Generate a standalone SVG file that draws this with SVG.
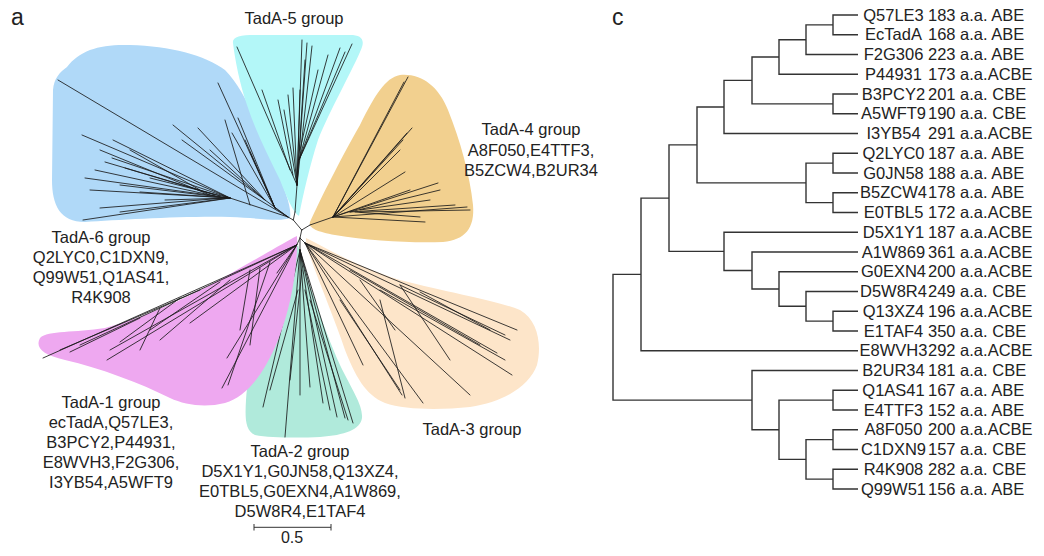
<svg xmlns="http://www.w3.org/2000/svg" width="1044" height="556" viewBox="0 0 1044 556">
<style>
text{font-family:"Liberation Sans",Arial,sans-serif;fill:#222;}
.lbl{font-size:16.5px;text-anchor:middle;}
.leaf{font-size:16.5px;}
.id{text-anchor:middle;}
.panel{font-size:23px;}
.br{fill:none;stroke:#1a1a1a;stroke-width:0.85;stroke-linecap:round;}
.tree{fill:none;stroke:#333;stroke-width:1.4;}
</style>
<rect width="1044" height="556" fill="#fff"/>
<text class="panel" x="11" y="25">a</text>
<text class="panel" x="612" y="25">c</text>

<g id="group-tada6">
<path fill="#b0d9f8" d="M67,67 C80,50 100,44 130,45 C170,46 205,55 225,70 C245,90 260,130 275,165 C285,190 292,208 290,218 C280,222 260,218 230,217 C180,216 120,220 85,222 C60,222 52,205 52,180 L53,90 C54,78 60,72 67,67 Z"/>
<path class="br" d="M288,217 L58,80 M288,217 L275,208 L218,83 M275,208 L238,118 M275,208 L232,133 M275,208 L245,140 M275,208 L250,152 M288,217 L265,200 L198,128 M265,200 L173,125 M265,200 L182,140 M265,200 L210,150 M288,217 L230,198 L82,135 M230,198 L85,178 M230,198 L83,220 M230,198 L113,140 M230,198 L112,158 M210,195 L100,150 M215,196 L95,170 M220,197 L120,185 M225,198 L100,208 M200,190 L130,150 M250,205 L225,120 M230,198 L90,190 M230,198 L140,192 M230,198 L165,200 M230,198 L120,212 M220,196 L105,162 M215,195 L125,168 M230,198 L150,178"/>
<text class="lbl" x="101" y="243">TadA-6 group</text>
<text class="lbl" x="101" y="263">Q2LYC0,C1DXN9,</text>
<text class="lbl" x="101" y="283">Q99W51,Q1AS41,</text>
<text class="lbl" x="101" y="303">R4K908</text>
</g>

<g id="group-tada5">
<path fill="#b3f7f8" d="M233,43 C232,37 240,35 255,35 L350,35 C362,35 366,40 360,52 C350,75 330,110 318,140 C310,165 303,195 299,216 C293,212 288,200 280,180 C268,155 255,130 247,105 C240,85 235,60 233,43 Z"/>
<path class="br" d="M295,212 L297,185 L237,47 M297,185 L302,40 M297,185 L307,43 M297,185 L312,46 M299,160 L340,48 M299,160 L352,44 M299,160 L328,55 M297,185 L288,95 M297,185 L293,88 M297,185 L300,90 M290,170 L262,90 M293,175 L278,100 M297,185 L305,60 M299,160 L345,52 M297,185 L284,110 M300,150 L318,70"/>
<text class="lbl" x="294" y="24">TadA-5 group</text>
</g>

<g id="group-tada4">
<path fill="#f2d08f" d="M310,222 C320,200 340,160 360,125 C375,95 385,78 400,75 C420,73 438,85 448,110 C460,140 470,175 473,205 C475,228 465,240 443,242 C410,243 370,241 335,235 C318,232 308,228 310,222 Z"/>
<path class="br" d="M310,225 L333,217 L408,77 M333,217 L407,133 M333,217 L405,172 M333,217 L438,183 M333,217 L467,207 M333,217 L425,222 M333,217 L410,190 M333,217 L400,150 M360,210 L430,200 M350,212 L455,205 M333,217 L403,140 M333,217 L412,128 M350,212 L440,190 M355,212 L420,217 M360,212 L470,210 M333,217 L404,82"/>
<text class="lbl" x="531" y="135">TadA-4 group</text>
<text class="lbl" x="531" y="156">A8F050,E4TTF3,</text>
<text class="lbl" x="531" y="176">B5ZCW4,B2UR34</text>
</g>

<g id="group-tada3">
<path fill="#fde5c9" d="M306,238 C330,250 360,268 400,280 C450,293 495,300 520,310 C538,320 542,345 537,365 C530,385 505,402 470,407 C440,410 405,410 385,403 C365,395 355,375 345,350 C335,320 318,280 306,245 Z"/>
<path class="br" d="M305,243 L517,330 M305,243 L512,375 M305,243 L470,395 M305,243 L423,403 M305,243 L402,395 M305,243 L363,365 M305,243 L497,353 M305,243 L510,340 M350,270 L480,345 M380,290 L505,360 M340,300 L400,390 M400,285 L505,335 M420,292 L490,330 M400,285 L450,360 M360,280 L395,330 M380,300 L405,398"/>
<text class="lbl" x="472" y="435">TadA-3 group</text>
</g>

<g id="group-tada2">
<path fill="#b0eadb" d="M298,245 C305,270 320,320 340,365 C352,390 363,405 362,418 C360,430 345,435 320,437 C300,438 270,438 255,435 C245,430 245,418 246,400 C248,370 258,330 272,295 C282,270 292,252 298,245 Z"/>
<path class="br" d="M300,250 L263,407 M300,250 L285,437 M300,250 L353,423 M300,250 L337,417 M300,250 L310,387 M300,250 L323,403 M300,250 L345,418 M300,250 L300,395 M298,290 L270,390 M305,290 L330,410 M302,270 L290,380 M310,300 L348,420"/>
<text class="lbl" x="300" y="457">TadA-2 group</text>
<text class="lbl" x="300" y="477">D5X1Y1,G0JN58,Q13XZ4,</text>
<text class="lbl" x="300" y="497">E0TBL5,G0EXN4,A1W869,</text>
<text class="lbl" x="300" y="517">D5W8R4,E1TAF4</text>
</g>

<g id="group-tada1">
<path fill="#eea8f0" d="M297,236 C298,270 290,310 278,340 C265,372 248,396 225,403 C205,408 185,405 170,398 C140,383 100,368 65,360 C42,355 35,347 40,338 C48,330 75,333 105,328 C150,316 200,292 235,271 C262,256 285,242 297,236 Z"/>
<path class="br" d="M296.7,245 L43,358 M296.7,245 L107,360 M296.7,245 L110,350 M296.7,245 L222,388 M296.7,245 L227,358 M296.7,245 L190,323 M296.7,245 L277,273 M200,290 L60,350 M160,308 L140,350 M250,270 L240,330 M230,280 L160,340 M296.7,245 L80,345 M180,298 L120,342 M220,282 L150,330 M270,262 L228,385 M260,268 L250,345 M140,318 L70,352"/>
<text class="lbl" x="111" y="408">TadA-1 group</text>
<text class="lbl" x="111" y="428">ecTadA,Q57LE3,</text>
<text class="lbl" x="111" y="448">B3PCY2,P44931,</text>
<text class="lbl" x="111" y="468">E8WVH3,F2G306,</text>
<text class="lbl" x="111" y="488">I3YB54,A5WFT9</text>
</g>

<g id="center">
<path class="br" d="M301.7,230 L293.3,220 L288,217 M293.3,220 L295,212 M301.7,230 L310,225 M301.7,230 L300,238 L296.7,245 M300,238 L300,250 M300,238 L305,243"/>
</g>

<g id="scale-bar">
<path fill="none" stroke="#333" stroke-width="1" d="M254,527.3 H331 M254,524 V530.5 M331,524 V530.5"/>
<text class="lbl" x="292" y="543" style="font-size:16px">0.5</text>
</g>

<g id="connectors">
<path class="tree" d="M858,15 H833 V34.75 H858
M833,24.9 H806 V54.5 H858
M806,39.7 H779 V74.25 H858
M858,94 H833 V113.75 H858
M779,57 H752 V103.9 H833
M752,80.4 H724 V133.5 H858
M858,153.25 H833 V173 H858
M858,192.75 H833 V212.5 H858
M833,163.1 H806 V202.6 H833
M724,107 H697 V182.9 H806
M858,311.25 H833 V331 H858
M858,291.5 H806 V321.1 H833
M858,271.75 H779 V306.3 H806
M858,252 H752 V289 H779
M858,232.25 H724 V270.5 H752
M697,144.9 H669 V251.4 H724
M669,198.1 H641 V350.75 H858
M858,390.25 H833 V410 H858
M858,429.75 H833 V449.5 H858
M858,469.25 H833 V489 H858
M833,439.6 H806 V479.1 H833
M833,400.1 H779 V459.4 H806
M858,370.5 H752 V429.8 H779
M641,274.4 H613 V400.1 H752"/>
</g>

<g id="leaves" class="leaf">
<g id="leaf-Q57LE3"><text class="id" x="893.5" y="20.7">Q57LE3</text><text x="928" y="20.7">183 a.a. ABE</text></g>
<g id="leaf-EcTadA"><text class="id" x="893.5" y="40.45">EcTadA</text><text x="928" y="40.45">168 a.a. ABE</text></g>
<g id="leaf-F2G306"><text class="id" x="893.5" y="60.2">F2G306</text><text x="928" y="60.2">223 a.a. ABE</text></g>
<g id="leaf-P44931"><text class="id" x="893.5" y="79.95">P44931</text><text x="928" y="79.95">173 a.a.ACBE</text></g>
<g id="leaf-B3PCY2"><text class="id" x="893.5" y="99.7">B3PCY2</text><text x="928" y="99.7">201 a.a. CBE</text></g>
<g id="leaf-A5WFT9"><text class="id" x="893.5" y="119.45">A5WFT9</text><text x="928" y="119.45">190 a.a. CBE</text></g>
<g id="leaf-I3YB54"><text class="id" x="893.5" y="139.2">I3YB54</text><text x="928" y="139.2">291 a.a.ACBE</text></g>
<g id="leaf-Q2LYC0"><text class="id" x="893.5" y="158.95">Q2LYC0</text><text x="928" y="158.95">187 a.a. ABE</text></g>
<g id="leaf-G0JN58"><text class="id" x="893.5" y="178.7">G0JN58</text><text x="928" y="178.7">188 a.a. ABE</text></g>
<g id="leaf-B5ZCW4"><text class="id" x="893.5" y="198.45">B5ZCW4</text><text x="928" y="198.45">178 a.a. ABE</text></g>
<g id="leaf-E0TBL5"><text class="id" x="893.5" y="218.2">E0TBL5</text><text x="928" y="218.2">172 a.a.ACBE</text></g>
<g id="leaf-D5X1Y1"><text class="id" x="893.5" y="237.95">D5X1Y1</text><text x="928" y="237.95">187 a.a.ACBE</text></g>
<g id="leaf-A1W869"><text class="id" x="893.5" y="257.7">A1W869</text><text x="928" y="257.7">361 a.a.ACBE</text></g>
<g id="leaf-G0EXN4"><text class="id" x="893.5" y="277.45">G0EXN4</text><text x="928" y="277.45">200 a.a.ACBE</text></g>
<g id="leaf-D5W8R4"><text class="id" x="893.5" y="297.2">D5W8R4</text><text x="928" y="297.2">249 a.a. CBE</text></g>
<g id="leaf-Q13XZ4"><text class="id" x="893.5" y="316.95">Q13XZ4</text><text x="928" y="316.95">196 a.a.ACBE</text></g>
<g id="leaf-E1TAF4"><text class="id" x="893.5" y="336.7">E1TAF4</text><text x="928" y="336.7">350 a.a. CBE</text></g>
<g id="leaf-E8WVH3"><text class="id" x="893.5" y="356.45">E8WVH3</text><text x="928" y="356.45">292 a.a.ACBE</text></g>
<g id="leaf-B2UR34"><text class="id" x="893.5" y="376.2">B2UR34</text><text x="928" y="376.2">181 a.a. CBE</text></g>
<g id="leaf-Q1AS41"><text class="id" x="893.5" y="395.95">Q1AS41</text><text x="928" y="395.95">167 a.a. ABE</text></g>
<g id="leaf-E4TTF3"><text class="id" x="893.5" y="415.7">E4TTF3</text><text x="928" y="415.7">152 a.a. ABE</text></g>
<g id="leaf-A8F050"><text class="id" x="893.5" y="435.45">A8F050</text><text x="928" y="435.45">200 a.a.ACBE</text></g>
<g id="leaf-C1DXN9"><text class="id" x="893.5" y="455.2">C1DXN9</text><text x="928" y="455.2">157 a.a. CBE</text></g>
<g id="leaf-R4K908"><text class="id" x="893.5" y="474.95">R4K908</text><text x="928" y="474.95">282 a.a. CBE</text></g>
<g id="leaf-Q99W51"><text class="id" x="893.5" y="494.7">Q99W51</text><text x="928" y="494.7">156 a.a. ABE</text></g>
</g>
</svg>
